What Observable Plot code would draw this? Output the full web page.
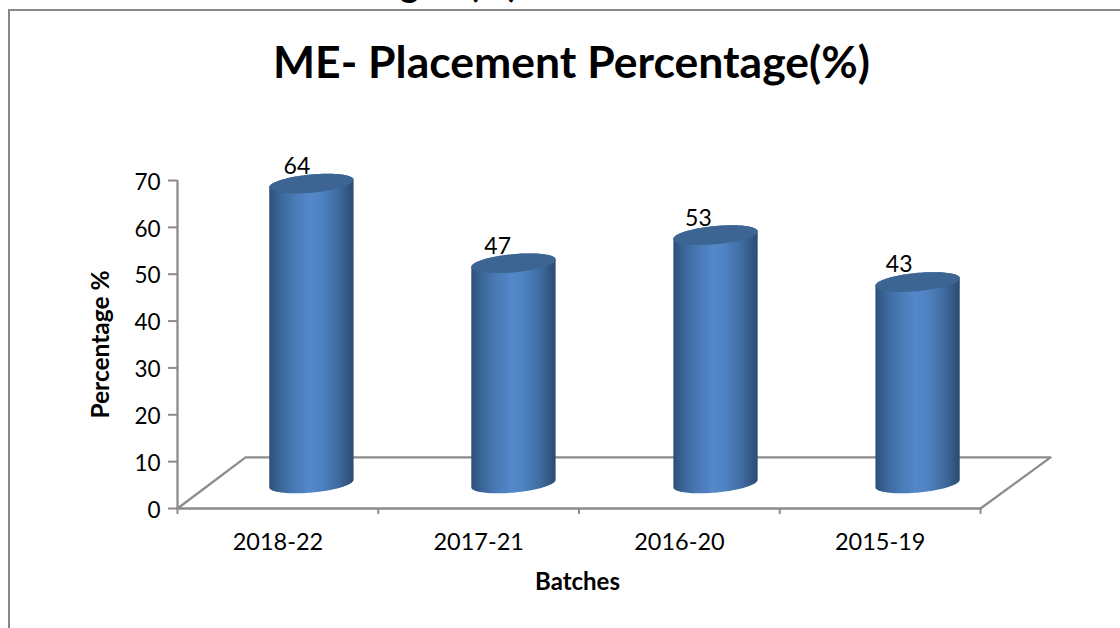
<!DOCTYPE html>
<html>
<head>
<meta charset="utf-8">
<script src="https://cdn.jsdelivr.net/npm/d3@7"></script>
<script src="https://cdn.jsdelivr.net/npm/@observablehq/plot@0.6"></script>
<style>
  html, body { margin: 0; padding: 0; background: #fff; overflow: hidden; }
  #page { position: relative; width: 1120px; height: 628px; overflow: hidden; font-family: Lato, "Open Sans", sans-serif; color: #000; }
  #frame { position: absolute; left: 8px; top: 9px; right: -4px; bottom: -4px; border-left: 2.5px solid #868686; border-top: 2px solid #8a8a8a; }
  #cut { position: absolute; right: 602px; top: -38px; font-size: 36px; line-height: 42px; font-weight: 700; white-space: pre; word-spacing: 22px; }
  #title { position: relative; margin: 0; height: 90px; padding-top: 37px; box-sizing: border-box; text-align: center; font-size: 44.5px; line-height: 48px; font-weight: 700; width: 1143px; }
  svg { display: block; position: relative; overflow: hidden; }
</style>
</head>
<body>
<div id="page">
  <div id="frame"></div>
  <div id="cut">Percentage (%)</div>
  <h1 id="title">ME- Placement Percentage(%)</h1>
  <div id="chart"></div>
</div>
<script>
const batches = ["2018-22", "2017-21", "2016-20", "2015-19"];
const values = [64, 47, 53, 43];
const yTicks = [0, 10, 20, 30, 40, 50, 60, 70];
const xEdges = [0, 1, 2, 3, 4];
const xCenters = [0.5, 1.5, 2.5, 3.5];
// depth of the floor in axis units (x in categories, y in percent)
const depthX = 0.339;
const depthXRight = 0.349;
const depthY = 10.9;
// cylinder shape in axis units
const barStep = 1.0065;
const radiusX = 0.21;
const radiusY = 1.95;
const tilt = 0.8;
const baseY = 5.23;

const width = 1120, height = 538;
const mL = 177, mR = 140, mT = 90, mB = 120;

const angles = d3.range(0, 49).map(i => Math.PI - i * Math.PI / 48);
const midX = i => i * barStep + 0.5 + depthX / 2;

// ellipse outline points: one row per angle, lower and upper edge
function edge(cx, cy) {
  return angles.map(t => ({
    x: cx + radiusX * Math.cos(t),
    low: cy - radiusY * Math.sin(t) + tilt * Math.cos(t),
    high: cy + radiusY * Math.sin(t) + tilt * Math.cos(t)
  }));
}
const bodies = values.flatMap((v, i) => {
  const base = edge(midX(i), baseY);
  const top = edge(midX(i), baseY + v);
  return base.map((b, k) => ({batch: batches[i], x: b.x, y1: b.low, y2: top[k].high}));
});
const caps = values.flatMap((v, i) =>
  edge(midX(i), baseY + v).map(e => ({batch: batches[i], x: e.x, y1: e.low, y2: e.high}))
);
const table = batches.map((b, i) => ({batch: b, value: values[i], i}));

const floor = [
  {x: 0, y: 0}, {x: 4, y: 0}, {x: 4 + depthXRight, y: depthY}, {x: depthX, y: depthY}, {x: 0, y: 0}
];

const gray = "#8c8c8c";
const chart = Plot.plot({
  width, height,
  marginLeft: mL, marginRight: mR, marginTop: mT, marginBottom: mB,
  style: {fontFamily: "Lato, 'Open Sans', sans-serif", background: "transparent", overflow: "hidden", color: "#000"},
  x: {type: "linear", domain: [0, 4]},
  y: {type: "linear", domain: [0, 70]},
  marks: [
    () => {
      const ns = "http://www.w3.org/2000/svg";
      const defs = document.createElementNS(ns, "defs");
      const g = document.createElementNS(ns, "linearGradient");
      g.setAttribute("id", "cyl");
      g.setAttribute("x1", "0"); g.setAttribute("x2", "1");
      g.setAttribute("y1", "0"); g.setAttribute("y2", "0");
      [[0, "#2c5078"], [0.12, "#3a6698"], [0.3, "#4a7ab6"], [0.48, "#5388cb"], [0.62, "#4e82c1"], [0.82, "#3f6b9f"], [1, "#2b4a70"]].forEach(([o, c]) => {
        const s = document.createElementNS(ns, "stop");
        s.setAttribute("offset", o);
        s.setAttribute("stop-color", c);
        g.appendChild(s);
      });
      defs.appendChild(g);
      return defs;
    },
    Plot.line(floor, {x: "x", y: "y", stroke: gray, strokeWidth: 2.3}),
    Plot.ruleX([0], {y1: 0, y2: 70, stroke: gray, strokeWidth: 2.3}),
    Plot.axisY({ticks: yTicks, tickSize: 9, tickFormat: () => "", label: null, stroke: gray, strokeWidth: 2}),
    Plot.axisY({ticks: yTicks, tickSize: 0, tickPadding: 17, dy: 2, fontSize: 22.5, label: null, color: "#000"}),
    Plot.axisX({ticks: xEdges, tickSize: 6, tickPadding: 0, tickFormat: () => "", label: null, stroke: gray, strokeWidth: 2}),
    Plot.axisX({ticks: xCenters, tickSize: 0, tickPadding: 25, tickFormat: (d, i) => batches[i], fontSize: 23.5, label: null}),
    Plot.areaY(bodies, {x: "x", y1: "y1", y2: "y2", z: "batch", fill: "url(#cyl)", curve: "linear"}),
    Plot.areaY(caps, {x: "x", y1: "y1", y2: "y2", z: "batch", fill: "#3c6593", curve: "linear"}),
    Plot.text(table, {x: d => d.i + 0.5 + 0.095, y: d => d.value + baseY, text: d => String(d.value), dy: -17.5, fontSize: 23, fill: "#000"}),
    Plot.text(["Percentage %"], {frameAnchor: "left", textAnchor: "middle", rotate: -90, dx: -76, fontWeight: 700, fontSize: 24.5, fill: "#000"}),
    Plot.text(["Batches"], {frameAnchor: "bottom", dx: -1.5, dy: 81, fontWeight: 700, fontSize: 24, fill: "#000"})
  ]
});
document.getElementById("chart").appendChild(chart);
</script>
</body>
</html>
